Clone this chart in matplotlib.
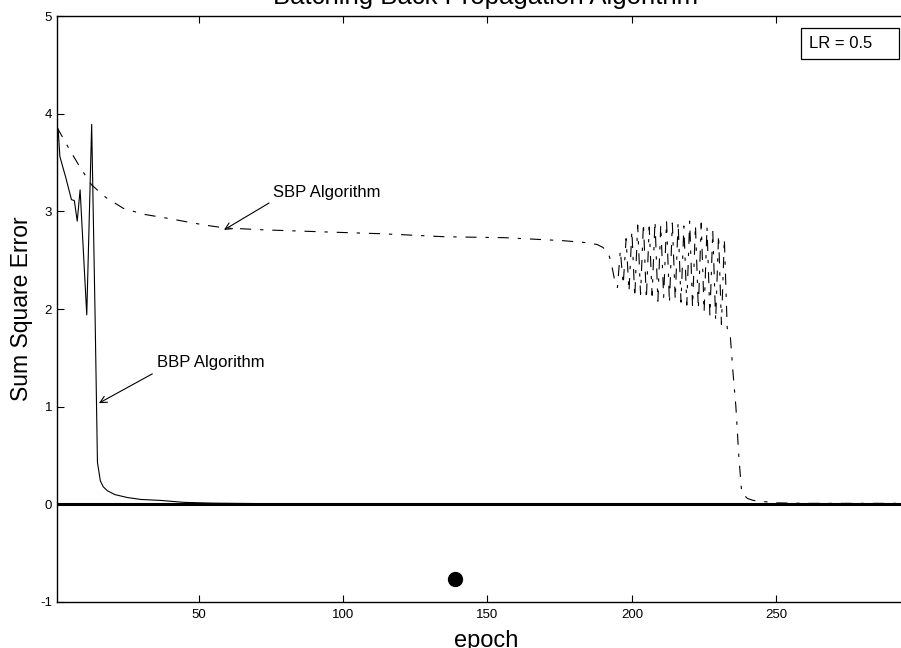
import matplotlib
matplotlib.use("Agg")
import matplotlib.pyplot as plt
from matplotlib.patches import Rectangle

plt.rcParams['font.family'] = ['Liberation Sans', 'DejaVu Sans']
plt.rcParams['axes.unicode_minus'] = False

# --- data ---
bbp_epoch = [1, 1.4, 2, 4, 6, 7, 8, 9, 11.3, 13, 14.2, 15, 16, 17, 18.4, 21, 25.3, 30, 36.9, 45, 55, 70, 298]
bbp_sse = [3.86, 3.84, 3.56, 3.35, 3.12, 3.11, 2.90, 3.22, 1.94, 3.89, 1.9, 0.43, 0.24, 0.18, 0.14, 0.10,
           0.07, 0.05, 0.04, 0.02, 0.012, 0.008, 0.008]

sbp_epoch = [1, 5, 9, 13, 18, 24, 31, 39, 52, 59, 73, 93, 114, 135, 156, 176, 184, 188, 190, 192,
             193, 194, 195, 196, 197, 198, 199, 200, 201, 202, 203, 204, 205, 206, 207, 208, 209,
             210, 211, 212, 213, 214, 215, 216, 217, 218, 219, 220, 221, 222, 223, 224, 225, 226,
             227, 228, 229, 230, 231, 232, 233, 234, 235, 236, 237, 238, 240, 242, 245, 250, 260, 298]
sbp_sse = [3.86, 3.65, 3.45, 3.27, 3.14, 3.03, 2.97, 2.93, 2.86, 2.83, 2.81, 2.79, 2.77, 2.74, 2.73,
           2.70, 2.68, 2.66, 2.63, 2.56,
           2.45, 2.30, 2.22, 2.60, 2.25, 2.72, 2.18, 2.80, 2.12, 2.86, 2.15, 2.88, 2.10, 2.84, 2.14,
           2.90, 2.08, 2.86, 2.12, 2.90, 2.06, 2.88, 2.10, 2.89, 2.07, 2.85, 2.04, 2.90, 2.02,
           2.86, 2.00, 2.88, 1.97, 2.84, 1.93, 2.80, 1.88, 2.76, 1.84, 2.72, 1.80, 1.75, 1.35,
           1.00, 0.50, 0.12, 0.06, 0.04, 0.03, 0.015, 0.01, 0.01]

dot_epoch = [138.9]
dot_value = [-0.765]

x_ticks = [50, 100, 150, 200, 250]
y_ticks = [-1, 0, 1, 2, 3, 4, 5]

fig = plt.figure(figsize=(9.01, 6.48), dpi=100)
# axes run slightly past the right edge, as in the cropped reference
ax = fig.add_axes([57 / 901, 46 / 648, (915 - 57) / 901, (602 - 16) / 648])

ax.plot(bbp_epoch, bbp_sse, color='black', lw=0.8)
ax.plot(sbp_epoch, sbp_sse, color='black', lw=0.8, linestyle=(0, (10, 8, 3, 8)))
ax.axhline(0, color='black', lw=2.2)
ax.plot(dot_epoch, dot_value, 'o', color='black', ms=10)

ax.set_xlim(1, 298)
ax.set_ylim(-1, 5)
ax.set_xticks(x_ticks)
ax.set_yticks(y_ticks)
ax.tick_params(direction='in', length=5, width=0.8, labelsize=9.5, top=True, right=True)
ax.tick_params(axis='x', pad=5)
ax.tick_params(axis='y', pad=3.5)
for s in ax.spines.values():
    s.set_linewidth(1.0)

ax.set_title('Batching Back Propagation Algorithm', fontsize=18.5, pad=8.5)
ax.set_xlabel('epoch', fontsize=17)
ax.xaxis.label.set_va('baseline')
ax.xaxis.set_label_coords((486 - 57) / (915 - 57), -(647 - 602) / 586)
ax.set_ylabel('Sum Square Error', fontsize=16.5)
ax.yaxis.set_label_coords(-(57 - 33) / 858, 0.5)
ax.yaxis.label.set_va('bottom')

arrow = dict(arrowstyle='->', color='black', lw=0.8, mutation_scale=12, shrinkA=0, shrinkB=0)
ax.annotate('', xy=(58.8, 2.81), xytext=(74.4, 3.085), arrowprops=arrow)
ax.text(75.6, 3.19, 'SBP Algorithm', fontsize=12, va='center', ha='left')
ax.annotate('', xy=(15.5, 1.036), xytext=(34.0, 1.336), arrowprops=arrow)
ax.text(35.5, 1.45, 'BBP Algorithm', fontsize=12, va='center', ha='left')

# LR box in the upper right corner
fig.patches.append(Rectangle((801 / 901, 1 - 59 / 648), 98 / 901, 31 / 648,
                             transform=fig.transFigure, fill=False, lw=0.9, ec='black'))
fig.text(809 / 901, 1 - 44 / 648, 'LR = 0.5', fontsize=12, va='center', ha='left')

fig.savefig('out.png', dpi=100)
